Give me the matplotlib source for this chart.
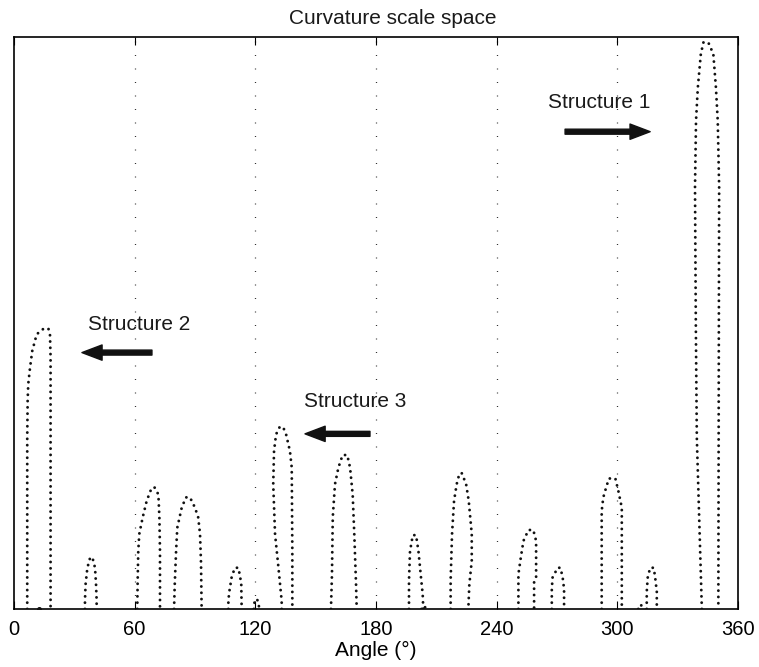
import matplotlib
matplotlib.use("Agg")
import matplotlib.pyplot as plt

plt.rcParams['font.family'] = ['Liberation Sans', 'DejaVu Sans']

# contours of the scale space: (angle in degrees, scale 0..100)
arch_a_x = [6.6, 6.6, 6.8, 7.1, 8.0, 9.1, 11.3, 14.8, 17.1, 17.9, 18.2, 18.2]
arch_a_y = [0, 30, 36.4, 39.3, 42.2, 45.1, 48.0, 49.0, 49.0, 48.0, 44, 0]
arch_b_x = [35.3, 35.3, 35.6, 36.5, 37.9, 39.0, 40.3, 40.8, 41.1, 41.1]
arch_b_y = [0, 1.5, 4.3, 7.2, 9.0, 9.0, 7.2, 4.3, 1.5, 0]
arch_c_x = [61.3, 61.5, 61.8, 62.3, 64.0, 66.0, 68.5, 70.0, 71.8, 72.3, 72.6, 72.6]
arch_c_y = [0, 5, 10.1, 13.1, 16.0, 18.9, 21.2, 21.2, 20.0, 16.0, 10, 0]
arch_d_x = [79.6, 79.9, 80.6, 81.2, 83.4, 85.5, 87.5, 90.0, 91.6, 92.5, 93.0, 93.3]
arch_d_y = [0, 4, 10.1, 14.2, 17.7, 19.5, 19.5, 17.7, 16.0, 13.1, 8, 0]
arch_e_x = [106.6, 106.6, 107.1, 108.2, 109.8, 111.6, 113.0, 113.2]
arch_e_y = [0, 1.5, 3.1, 5.5, 7.2, 7.2, 4.5, 0]
arch_f_x = [133.1, 133.1, 131.5, 129.8, 128.9, 129.3, 130.3, 132.1, 133.8, 135.3, 137.2, 138.1, 138.4, 138.4]
arch_f_y = [0, 1.4, 7.2, 13.1, 21.8, 27.6, 30.5, 31.8, 31.8, 30.5, 27.6, 24.7, 10, 0]
arch_g_x = [157.6, 158.1, 158.5, 159.6, 161.3, 163.4, 165.7, 167.1, 168.4, 169.2, 170.1, 170.4]
arch_g_y = [0, 6, 16.0, 21.8, 24.7, 26.9, 26.9, 24.7, 20.0, 13.1, 4, 0]
arch_h_x = [196.4, 196.4, 196.9, 198.3, 199.9, 201.1, 202.2, 203.2, 203.5]
arch_h_y = [0, 5, 10.1, 12.9, 12.9, 10.1, 6.1, 2.6, 0]
arch_i_x = [217.1, 217.1, 217.8, 218.8, 220.1, 221.5, 222.7, 224.8, 226.1, 227.6, 227.6, 226.4, 225.9]
arch_i_y = [0, 5, 13.1, 18.9, 21.8, 23.7, 23.7, 21.8, 18.9, 13.1, 8.4, 4.3, 0]
arch_j_x = [250.8, 250.8, 252.0, 253.3, 255.8, 258.2, 259.6, 259.6, 258.6, 258.6]
arch_j_y = [0, 6.1, 9.0, 11.9, 13.8, 13.8, 11.9, 5.5, 4.9, 0]
arch_k_x = [267.4, 267.4, 267.8, 270.3, 271.7, 272.8, 273.5, 273.5]
arch_k_y = [0, 3.5, 5.5, 7.2, 7.2, 5.5, 3.5, 0]
arch_l_x = [292.2, 292.2, 293.0, 294.4, 295.8, 299.0, 300.5, 302.2, 302.2]
arch_l_y = [0, 17.1, 19.5, 21.2, 22.8, 22.8, 20.6, 17.7, 0]
arch_m_x = [314.6, 314.6, 315.1, 316.3, 318.0, 318.7, 319.6, 319.6]
arch_m_y = [0, 3, 5.5, 7.2, 7.2, 5.8, 3, 0]
arch_n_x = [342.0, 341.5, 339.5, 339.0, 338.6, 339.1, 340.0, 341.5, 342.8, 345.2, 347.7, 349.0, 349.9, 350.6, 350.4, 350.2]
arch_n_y = [0, 6, 30, 50, 73.7, 85.3, 91.1, 97.0, 99.0, 99.0, 97.0, 91.1, 85.3, 73.7, 40, 0]
# tiny contours near the base line
tiny_1_x = [119.3, 119.6, 120.6, 121.6, 121.9]
tiny_1_y = [0, 1.2, 1.8, 1.2, 0]
tiny_2_x = [202.6, 203.8, 205.0]
tiny_2_y = [0, 0.6, 0]
tiny_3_x = [310.4, 311.6, 312.9]
tiny_3_y = [0, 0.8, 0]
single_x = [12.6]
single_y = [0]

arches = [
    (arch_a_x, arch_a_y), (arch_b_x, arch_b_y), (arch_c_x, arch_c_y),
    (arch_d_x, arch_d_y), (arch_e_x, arch_e_y), (arch_f_x, arch_f_y),
    (arch_g_x, arch_g_y), (arch_h_x, arch_h_y), (arch_i_x, arch_i_y),
    (arch_j_x, arch_j_y), (arch_k_x, arch_k_y), (arch_l_x, arch_l_y),
    (arch_m_x, arch_m_y), (arch_n_x, arch_n_y),
    (tiny_1_x, tiny_1_y), (tiny_2_x, tiny_2_y), (tiny_3_x, tiny_3_y),
]

labels = ['Structure 1', 'Structure 2', 'Structure 3']
label_x = [265.5, 36.8, 144.2]
label_y = [88.5, 49.7, 36.2]
arrow_from_x = [274.0, 68.6, 177.0]
arrow_to_x = [316.3, 33.8, 144.7]
arrow_y = [83.4, 44.8, 30.6]

xticks = [0, 60, 120, 180, 240, 300, 360]

fig = plt.figure(figsize=(7.59, 6.67), dpi=100)
ax = fig.add_axes([0.0184, 0.087, 0.954, 0.858])

for gx in xticks[1:-1]:
    ax.axvline(gx, color='#333333', lw=0.9, ls=(0, (0.8, 10)), zorder=1)

for xs, ys in arches:
    ax.plot(xs, ys, color='#111111', lw=2.1, ls=(0, (0.01, 2.15)),
            dash_capstyle='round', solid_capstyle='round', zorder=3)
ax.plot(single_x, single_y, 'o', color='#111111', ms=2.6, zorder=3)

for lab, lx, ly, x0, x1, ay in zip(labels, label_x, label_y, arrow_from_x, arrow_to_x, arrow_y):
    ax.text(lx, ly, lab, fontsize=15, va='center', ha='left', color='#1a1a1a')
    ax.annotate('', xy=(x1, ay), xytext=(x0, ay),
                arrowprops=dict(width=3.6, headwidth=11, headlength=14.5,
                                color='#111111', shrink=0))

ax.set_xlim(0, 360)
ax.set_ylim(0, 100)
ax.set_xticks(xticks)
ax.set_yticks([])
ax.tick_params(axis='x', direction='in', length=6, top=True, labelsize=14.5, pad=8)
for s in ax.spines.values():
    s.set_linewidth(1.2)
ax.set_title('Curvature scale space', fontsize=15, pad=9, color='#1a1a1a', x=0.523)
ax.set_xlabel('Angle (°)', fontsize=15, labelpad=1)

fig.savefig('out.png', dpi=100)
